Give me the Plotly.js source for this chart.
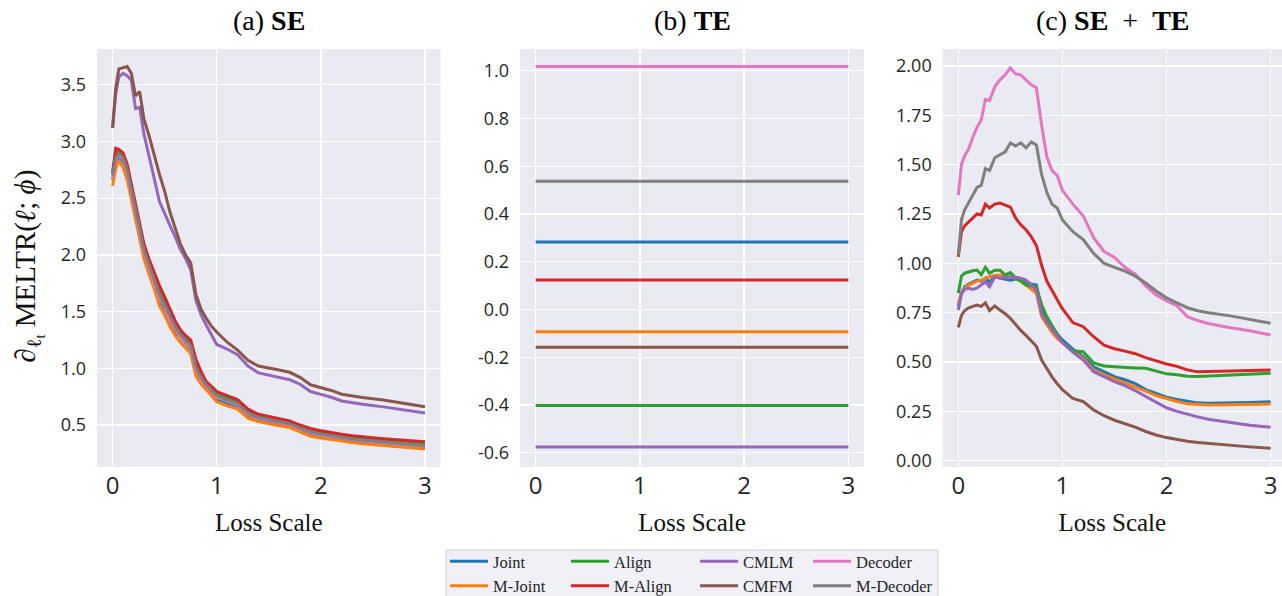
<!DOCTYPE html>
<html><head><meta charset="utf-8">
<script src="https://cdn.plot.ly/plotly-3.0.1.min.js"></script>
<style>html,body{margin:0;padding:0;background:#fff;}#chart{width:1282px;height:596px;}</style>
</head><body><div id="chart"></div>
<script>
// ---------- data ----------
const lossScale = [0, 0.03, 0.06, 0.1, 0.14, 0.18, 0.22, 0.26, 0.3,
  0.35, 0.4, 0.45, 0.5, 0.55, 0.6, 0.65, 0.7, 0.75, 0.8, 0.85, 0.9, 0.95,
  1.0, 1.1, 1.2, 1.3, 1.4, 1.5, 1.6, 1.7, 1.8, 1.9, 2.0, 2.1, 2.2, 2.3, 2.4,
  2.6, 2.8, 3.0];
const teScale = [0, 3];
const methods = ['Joint', 'M-Joint', 'Align', 'M-Align', 'CMLM', 'CMFM', 'Decoder', 'M-Decoder'];

// (a) SE
const seJoint = [2.66, 2.81, 2.87, 2.82, 2.71, 2.53, 2.35, 2.18, 2.02,
  1.87, 1.74, 1.60, 1.52, 1.41, 1.33, 1.27, 1.22, 1.17, 0.97, 0.89, 0.835, 0.785,
  0.73, 0.695, 0.665, 0.585, 0.552, 0.532, 0.515, 0.498, 0.46, 0.422, 0.405, 0.39, 0.377, 0.365, 0.355,
  0.338, 0.322, 0.308];
const seMJoint = [2.61, 2.76, 2.83, 2.77, 2.66, 2.48, 2.30, 2.13, 1.97,
  1.83, 1.70, 1.55, 1.47, 1.37, 1.29, 1.23, 1.18, 1.13, 0.93, 0.86, 0.81, 0.76,
  0.705, 0.67, 0.64, 0.56, 0.53, 0.51, 0.495, 0.478, 0.44, 0.40, 0.385, 0.37, 0.358, 0.345, 0.335,
  0.318, 0.302, 0.288];
const seAlign = [2.72, 2.91, 2.91, 2.88, 2.78, 2.60, 2.42, 2.26, 2.08,
  1.94, 1.82, 1.70, 1.61, 1.50, 1.40, 1.32, 1.27, 1.23, 1.05, 0.95, 0.87, 0.83,
  0.785, 0.745, 0.712, 0.63, 0.586, 0.565, 0.545, 0.526, 0.49, 0.46, 0.44, 0.422, 0.408, 0.395, 0.385,
  0.37, 0.355, 0.342];
const seMAlign = [2.73, 2.94, 2.93, 2.90, 2.80, 2.62, 2.45, 2.28, 2.10,
  1.96, 1.84, 1.73, 1.63, 1.52, 1.42, 1.34, 1.29, 1.25, 1.08, 0.97, 0.88, 0.84,
  0.795, 0.76, 0.725, 0.64, 0.595, 0.575, 0.555, 0.535, 0.50, 0.47, 0.45, 0.432, 0.418, 0.405, 0.395,
  0.38, 0.365, 0.352];
const seCMLM = [3.12, 3.42, 3.57, 3.60, 3.58, 3.54, 3.29, 3.30, 3.07,
  2.88, 2.67, 2.47, 2.36, 2.26, 2.16, 2.05, 1.97, 1.87, 1.60, 1.47, 1.38, 1.30,
  1.21, 1.17, 1.12, 1.02, 0.96, 0.94, 0.92, 0.90, 0.86, 0.795, 0.77, 0.745, 0.712, 0.695, 0.683,
  0.66, 0.632, 0.606];
const seCMFM = [3.12, 3.47, 3.64, 3.65, 3.66, 3.60, 3.40, 3.44, 3.20,
  3.05, 2.87, 2.71, 2.56, 2.38, 2.24, 2.10, 2.00, 1.93, 1.65, 1.52, 1.44, 1.37,
  1.32, 1.23, 1.16, 1.07, 1.02, 1.005, 0.985, 0.965, 0.92, 0.855, 0.83, 0.805, 0.772, 0.755, 0.742,
  0.72, 0.692, 0.662];
const seDecoder = [2.68, 2.84, 2.88, 2.84, 2.73, 2.55, 2.37, 2.20, 2.03,
  1.89, 1.76, 1.62, 1.54, 1.43, 1.35, 1.28, 1.23, 1.18, 0.99, 0.905, 0.845, 0.80,
  0.745, 0.71, 0.678, 0.595, 0.56, 0.54, 0.522, 0.505, 0.468, 0.432, 0.412, 0.398, 0.383, 0.371, 0.361,
  0.345, 0.328, 0.314];
const seMDecoder = [2.70, 2.86, 2.89, 2.86, 2.75, 2.57, 2.39, 2.22, 2.05,
  1.91, 1.78, 1.65, 1.56, 1.46, 1.37, 1.30, 1.25, 1.20, 1.01, 0.92, 0.855, 0.81,
  0.76, 0.72, 0.69, 0.605, 0.568, 0.548, 0.53, 0.512, 0.475, 0.44, 0.42, 0.405, 0.39, 0.378, 0.368,
  0.352, 0.335, 0.32];

// (b) TE  (constant per method)
const teLevels = [0.283, -0.093, -0.402, 0.123, -0.576, -0.158, 1.018, 0.537];

// (c) SE + TE
const bothJoint = [0.78, 0.85, 0.88, 0.895, 0.905, 0.915, 0.91, 0.925, 0.905,
  0.935, 0.925, 0.92, 0.915, 0.92, 0.915, 0.905, 0.895, 0.89, 0.76, 0.71, 0.67, 0.64,
  0.612, 0.565, 0.527, 0.476, 0.45, 0.426, 0.41, 0.39, 0.36, 0.34, 0.322, 0.31, 0.30, 0.293, 0.291,
  0.292, 0.295, 0.299];
const bothMJoint = [0.797, 0.85, 0.872, 0.89, 0.90, 0.91, 0.915, 0.925, 0.932,
  0.938, 0.941, 0.935, 0.93, 0.925, 0.91, 0.89, 0.87, 0.848, 0.73, 0.69, 0.65, 0.62,
  0.598, 0.555, 0.519, 0.459, 0.435, 0.415, 0.395, 0.375, 0.352, 0.33, 0.313, 0.30, 0.288, 0.284, 0.282,
  0.283, 0.285, 0.287];
const bothAlign = [0.848, 0.935, 0.95, 0.958, 0.962, 0.966, 0.942, 0.98, 0.95,
  0.965, 0.965, 0.942, 0.953, 0.925, 0.91, 0.89, 0.885, 0.88, 0.79, 0.73, 0.685, 0.64,
  0.60, 0.557, 0.552, 0.495, 0.48, 0.476, 0.472, 0.47, 0.468, 0.455, 0.44, 0.435, 0.428, 0.427, 0.429,
  0.433, 0.438, 0.443];
const bothMAlign = [1.033, 1.16, 1.19, 1.21, 1.235, 1.25, 1.245, 1.30, 1.28,
  1.30, 1.305, 1.295, 1.285, 1.23, 1.195, 1.17, 1.135, 1.09, 0.99, 0.91, 0.86, 0.815,
  0.77, 0.70, 0.679, 0.628, 0.585, 0.567, 0.555, 0.542, 0.522, 0.505, 0.49, 0.478, 0.46, 0.45, 0.451,
  0.452, 0.455, 0.459];
const bothCMLM = [0.763, 0.845, 0.868, 0.873, 0.868, 0.875, 0.89, 0.905, 0.881,
  0.932, 0.924, 0.928, 0.932, 0.93, 0.925, 0.915, 0.89, 0.865, 0.745, 0.70, 0.665, 0.63,
  0.598, 0.55, 0.51, 0.451, 0.425, 0.40, 0.38, 0.355, 0.325, 0.295, 0.268, 0.25, 0.235, 0.222, 0.21,
  0.195, 0.18, 0.169];
const bothCMFM = [0.676, 0.735, 0.76, 0.775, 0.782, 0.788, 0.782, 0.80, 0.76,
  0.784, 0.763, 0.745, 0.721, 0.69, 0.66, 0.635, 0.61, 0.58, 0.51, 0.465, 0.425, 0.39,
  0.36, 0.315, 0.299, 0.257, 0.228, 0.205, 0.188, 0.17, 0.148, 0.13, 0.117, 0.107, 0.098, 0.092, 0.087,
  0.079, 0.07, 0.063];
const bothDecoder = [1.346, 1.50, 1.545, 1.58, 1.64, 1.69, 1.725, 1.83, 1.825,
  1.895, 1.93, 1.955, 1.99, 1.96, 1.955, 1.93, 1.905, 1.89, 1.70, 1.54, 1.47, 1.445,
  1.37, 1.30, 1.24, 1.13, 1.06, 1.03, 0.98, 0.945, 0.885, 0.84, 0.81, 0.785, 0.73, 0.71, 0.695,
  0.675, 0.658, 0.637];
const bothMDecoder = [1.042, 1.22, 1.27, 1.31, 1.35, 1.385, 1.395, 1.48, 1.47,
  1.535, 1.55, 1.565, 1.61, 1.595, 1.61, 1.585, 1.615, 1.60, 1.45, 1.36, 1.30, 1.28,
  1.22, 1.16, 1.12, 1.05, 1.00, 0.98, 0.96, 0.935, 0.90, 0.86, 0.825, 0.80, 0.775, 0.76, 0.75,
  0.735, 0.715, 0.696];

const xTicks = [0, 1, 2, 3];
const yTicksA = [0.5, 1.0, 1.5, 2.0, 2.5, 3.0, 3.5];
const yLabelsA = ['0.5', '1.0', '1.5', '2.0', '2.5', '3.0', '3.5'];
const yTicksB = [-0.6, -0.4, -0.2, 0.0, 0.2, 0.4, 0.6, 0.8, 1.0];
const yLabelsB = ['-0.6', '-0.4', '-0.2', '0.0', '0.2', '0.4', '0.6', '0.8', '1.0'];
const yTicksC = [0, 0.25, 0.5, 0.75, 1.0, 1.25, 1.5, 1.75, 2.0];
const yLabelsC = ['0.00', '0.25', '0.50', '0.75', '1.00', '1.25', '1.50', '1.75', '2.00'];

// ---------- styling ----------
const palette = ['#1f77b4', '#ff7f0e', '#2ca02c', '#d62728', '#9467bd', '#8c564b', '#e377c2', '#7f7f7f'];
const legendIds = ['legend', 'legend', 'legend2', 'legend2', 'legend3', 'legend3', 'legend4', 'legend4'];
const seSeries = [seJoint, seMJoint, seAlign, seMAlign, seCMLM, seCMFM, seDecoder, seMDecoder];
const bothSeries = [bothJoint, bothMJoint, bothAlign, bothMAlign, bothCMLM, bothCMFM, bothDecoder, bothMDecoder];
const LW = 3;

const traces = [];
methods.forEach((m, i) => {
  traces.push({type: 'scatter', mode: 'lines', x: lossScale, y: seSeries[i], xaxis: 'x', yaxis: 'y',
    name: m, legend: legendIds[i], showlegend: true, line: {color: palette[i], width: LW}, hoverinfo: 'skip'});
});
methods.forEach((m, i) => {
  traces.push({type: 'scatter', mode: 'lines', x: teScale, y: [teLevels[i], teLevels[i]], xaxis: 'x2', yaxis: 'y2',
    name: m, showlegend: false, line: {color: palette[i], width: LW}, hoverinfo: 'skip'});
});
methods.forEach((m, i) => {
  traces.push({type: 'scatter', mode: 'lines', x: lossScale, y: bothSeries[i], xaxis: 'x3', yaxis: 'y3',
    name: m, showlegend: false, line: {color: palette[i], width: LW}, hoverinfo: 'skip'});
});

const tickFontY = {family: 'Open Sans, Noto Sans, sans-serif', size: 18, color: '#262626'};
const tickFontX = {family: 'Open Sans, Noto Sans, sans-serif', size: 24, color: '#262626'};
const serif = 'Liberation Serif, Times New Roman, serif';

function xAxis(domain, range, anchor) {
  return {domain: domain, range: range, anchor: anchor, tickvals: xTicks, ticktext: xTicks.map(String),
    showgrid: true, gridcolor: '#ffffff', gridwidth: 1.3, zeroline: false, showline: false, ticks: '',
    ticklabelstandoff: 2, tickfont: tickFontX, automargin: false,
    title: {text: 'Loss Scale', font: {family: serif, size: 25, color: '#111'}, standoff: 13}};
}
function yAxis(range, anchor, vals, labels) {
  return {range: range, anchor: anchor, domain: [0, 1], tickvals: vals, ticktext: labels,
    showgrid: true, gridcolor: '#ffffff', gridwidth: 1.3, zeroline: false, showline: false, ticks: '',
    ticklabelstandoff: 10, tickfont: tickFontY, automargin: false};
}

const legFont = {family: serif, size: 16.5, color: '#262626'};
function leg(x) {
  return {x: x, xanchor: 'left', y: -0.1842, yanchor: 'top', orientation: 'v', bgcolor: 'rgba(0,0,0,0)',
    borderwidth: 0, font: legFont, tracegroupgap: 0, itemwidth: 38};
}

const layout = {
  width: 1282, height: 596,
  margin: {l: 97, r: 0, t: 49, b: 129, autoexpand: false},
  paper_bgcolor: '#ffffff', plot_bgcolor: '#eaeaf2',
  showlegend: true,
  xaxis: xAxis([0, 0.28996], [-0.15, 3.15], 'y'),
  yaxis: yAxis([0.13, 3.815], 'x', yTicksA, yLabelsA),
  xaxis2: xAxis([0.35696, 0.64726], [-0.15, 3.15], 'y2'),
  yaxis2: yAxis([-0.66, 1.091], 'x2', yTicksB, yLabelsB),
  xaxis3: xAxis([0.71367, 1], [-0.15, 3.109], 'y3'),
  yaxis3: yAxis([-0.032, 2.086], 'x3', yTicksC, yLabelsC),
  legend: leg(0.2937), legend2: leg(0.3958), legend3: leg(0.5047), legend4: leg(0.6),
  shapes: [{type: 'rect', xref: 'paper', yref: 'paper', x0: 0.2945, x1: 0.7097, y0: -0.1986, y1: -0.36,
    line: {color: '#cfcfd6', width: 1}, fillcolor: 'rgba(240,240,246,1)', layer: 'below'}],
  annotations: [
    {xref: 'x domain', yref: 'paper', x: 0.5, y: 1.069, xanchor: 'center', yanchor: 'middle', showarrow: false,
      text: '(a) <b>SE</b>', font: {family: serif, size: 28, color: '#000'}},
    {xref: 'x2 domain', yref: 'paper', x: 0.5, y: 1.069, xanchor: 'center', yanchor: 'middle', showarrow: false,
      text: '(b) <b>TE</b>', font: {family: serif, size: 28, color: '#000'}},
    {xref: 'x3 domain', yref: 'paper', x: 0.5, y: 1.069, xanchor: 'center', yanchor: 'middle', showarrow: false,
      text: '(c) <b>SE</b>&nbsp;&nbsp;+&nbsp;&nbsp;<b>TE</b>', font: {family: serif, size: 28, color: '#000'}},
    {xref: 'paper', yref: 'paper', x: -0.058, y: 0.48, xanchor: 'center', yanchor: 'middle', showarrow: false,
      textangle: -90, text: '∂<sub>ℓ<sub>t</sub></sub> MELTR(<b><i>ℓ</i></b>; <i>ϕ</i>)',
      font: {family: serif, size: 29, color: '#111'}}
  ]
};

Plotly.newPlot('chart', traces, layout, {displayModeBar: false, staticPlot: true});
</script>
</body></html>
